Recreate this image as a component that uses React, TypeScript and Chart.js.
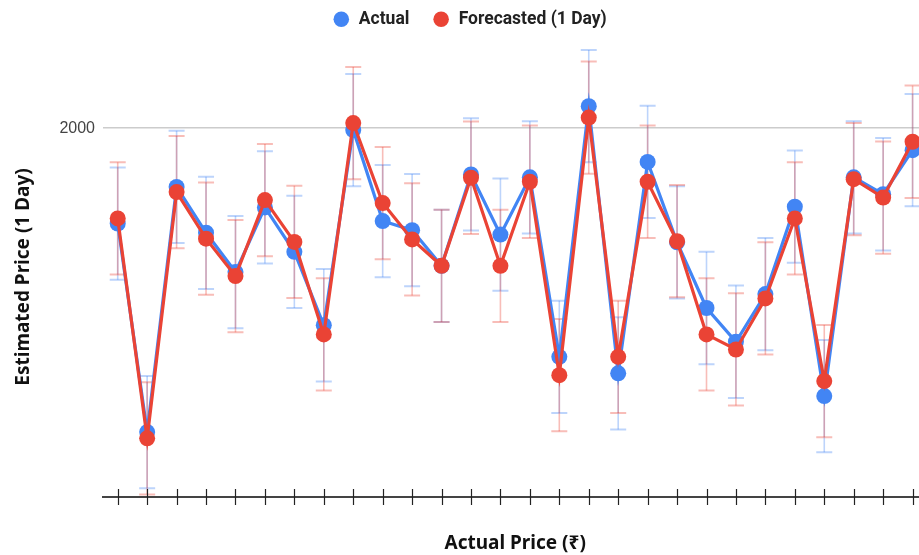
import React, { useEffect, useRef } from "react";
import { Chart, registerables } from "chart.js";

Chart.register(...registerables);

const categories = [
  "1", "2", "3", "4", "5", "6", "7", "8", "9", "10", "11", "12", "13", "14",
  "15", "16", "17", "18", "19", "20", "21", "22", "23", "24", "25", "26", "27", "28",
];

const actualValues = [
  1740, 1172, 1840, 1715, 1608, 1784, 1663, 1463, 1995, 1747, 1722, 1625, 1874, 1710,
  1866, 1377, 2060, 1332, 1908, 1689, 1510, 1418, 1548, 1786, 1270, 1866, 1820, 1940,
];

const forecastValues = [
  1754, 1155, 1826, 1699, 1597, 1804, 1690, 1438, 2014, 1796, 1697, 1625, 1865, 1625,
  1854, 1327, 2029, 1377, 1854, 1692, 1438, 1397, 1536, 1754, 1311, 1861, 1811, 1963,
];

// interval half-width (same for both series)
const actualError = 153;
const forecastError = 153;

const yTickValues = [2000];
const Y_MIN = 995;
const Y_MAX = 2194;

const BLUE = "#4285F4";
const RED = "#EA4335";

const errorBarPlugin = {
  id: "errorBars",
  beforeDatasetsDraw(chart: any) {
    const ctx = chart.ctx;
    const xs = chart.scales.x;
    const ys = chart.scales.y;
    const sets = [
      { values: actualValues, err: actualError, color: "rgba(66,133,244,0.35)" },
      { values: forecastValues, err: forecastError, color: "rgba(234,67,53,0.35)" },
    ];
    ctx.save();
    sets.forEach((s) => {
      s.values.forEach((v, i) => {
        const x = xs.getPixelForValue(i);
        const yTop = ys.getPixelForValue(v + s.err);
        const yBot = ys.getPixelForValue(v - s.err);
        ctx.strokeStyle = s.color;
        ctx.lineWidth = 1.6;
        ctx.beginPath();
        ctx.moveTo(x, yTop);
        ctx.lineTo(x, yBot);
        ctx.stroke();
        ctx.lineWidth = 2;
        ctx.beginPath();
        ctx.moveTo(x - 8, yTop);
        ctx.lineTo(x + 8, yTop);
        ctx.moveTo(x - 8, yBot);
        ctx.lineTo(x + 8, yBot);
        ctx.stroke();
      });
    });
    ctx.restore();
  },
};

const crossTickPlugin = {
  id: "crossTicks",
  afterDraw(chart: any) {
    const ctx = chart.ctx;
    const xs = chart.scales.x;
    const base = chart.chartArea.bottom;
    ctx.save();
    ctx.strokeStyle = "#222";
    ctx.lineWidth = 1.2;
    for (let i = 0; i < xs.ticks.length; i++) {
      const x = Math.round(xs.getPixelForTick(i)) + 0.5;
      ctx.beginPath();
      ctx.moveTo(x, base - 8);
      ctx.lineTo(x, base + 8);
      ctx.stroke();
    }
    ctx.restore();
  },
};

export default function App() {
  const canvasRef = useRef<HTMLCanvasElement | null>(null);

  useEffect(() => {
    if (!canvasRef.current) return;
    const chart = new Chart(canvasRef.current, {
      type: "line",
      data: {
        labels: categories,
        datasets: [
          {
            label: "Actual",
            data: actualValues,
            xAxisID: "x",
            yAxisID: "y",
            borderColor: BLUE,
            backgroundColor: BLUE,
            pointBackgroundColor: BLUE,
            pointBorderColor: BLUE,
            pointRadius: 8,
            pointBorderWidth: 0,
            borderWidth: 3.2,
            tension: 0,
            order: 1,
            clip: false,
          },
          {
            label: "Forecasted (1 Day)",
            data: forecastValues,
            xAxisID: "x",
            yAxisID: "y",
            borderColor: RED,
            backgroundColor: RED,
            pointBackgroundColor: RED,
            pointBorderColor: RED,
            pointRadius: 8,
            pointBorderWidth: 0,
            borderWidth: 3.2,
            tension: 0,
            order: 0,
            clip: false,
          },
        ],
      },
      options: {
        animation: false,
        responsive: false,
        devicePixelRatio: 1,
        layout: { padding: { left: 12, right: 24.7, top: -12.5, bottom: 0 } },
        plugins: {
          tooltip: { enabled: false },
          legend: {
            position: "top",
            align: "center",
            labels: {
              usePointStyle: true,
              pointStyle: "circle",
              boxHeight: 11,
              padding: 23,
              color: "#222",
              font: { family: "Roboto, Arial, sans-serif", size: 17.5, weight: "bold" },
              sort: (a: any, b: any) => a.datasetIndex - b.datasetIndex,
            },
          },
        },
        scales: {
          x: {
            type: "category",
            position: "bottom",
            offset: true,
            grid: { display: false, drawTicks: false },
            border: { display: true, color: "#444", width: 2 },
            ticks: { display: false },
            title: {
              display: true,
              text: "Actual Price (₹)",
              color: "#111",
              font: { family: "'Noto Sans', 'DejaVu Sans', sans-serif", size: 19, weight: "bold" },
              padding: { top: 0, bottom: 0 },
            },
            afterFit: (s: any) => {
              s.height = 58;
            },
          },
          xTop: {
            type: "category",
            position: "top",
            display: true,
            grid: { display: false },
            border: { display: false },
            ticks: { display: false },
            afterFit: (s: any) => {
              s.height = 19;
            },
          },
          y: {
            type: "linear",
            position: "left",
            min: Y_MIN,
            max: Y_MAX,
            afterBuildTicks: (s: any) => {
              s.ticks = yTickValues.map((v) => ({ value: v }));
            },
            grid: { color: "#cccccc", lineWidth: 1.5, drawTicks: false },
            border: { display: false },
            ticks: {
              color: "#444",
              padding: 8,
              font: { family: "Arial, 'Liberation Sans', sans-serif", size: 16 },
              callback: (v: any) => String(v),
            },
            title: {
              display: true,
              text: "Estimated Price (1 Day)",
              color: "#111",
              font: { family: "'Noto Sans', 'DejaVu Sans', sans-serif", size: 19, weight: "bold" },
              padding: { top: 0, bottom: 0 },
            },
            afterFit: (s: any) => {
              s.width = 91;
            },
          },
        },
      },
      plugins: [errorBarPlugin, crossTickPlugin],
    });
    return () => chart.destroy();
  }, []);

  return (
    <div
      style={{
        position: "fixed",
        left: 0,
        top: 0,
        width: 919,
        height: 555,
        overflow: "hidden",
        background: "#fff",
      }}
    >
      <canvas ref={canvasRef} width={952} height={555} style={{ width: 952, height: 555, display: "block" }} />
    </div>
  );
}
